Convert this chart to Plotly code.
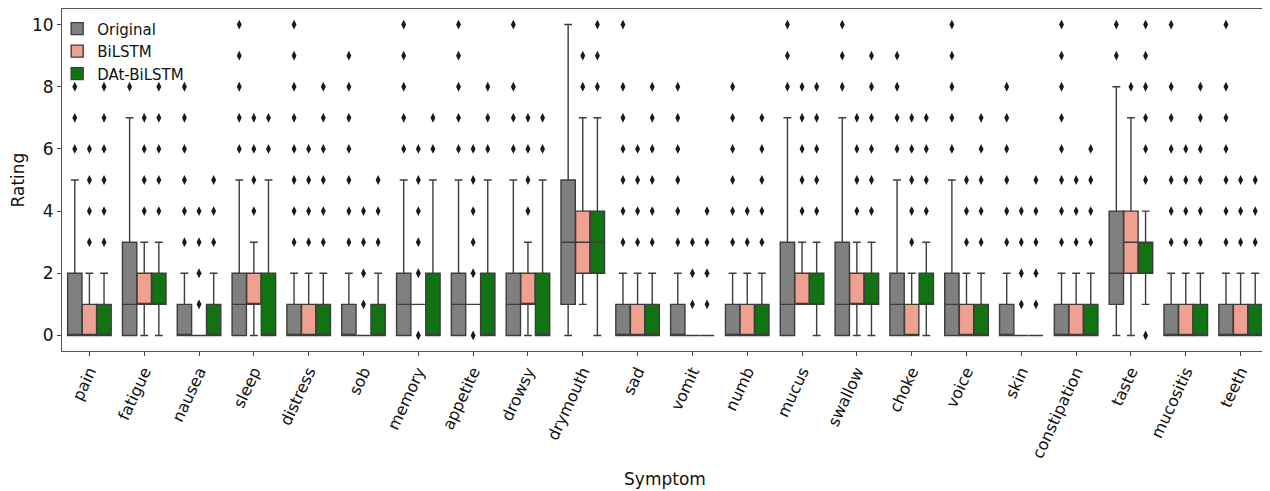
import plotly.graph_objects as go

categories = ["pain", "fatigue", "nausea", "sleep", "distress", "sob", "memory", "appetite",
              "drowsy", "drymouth", "sad", "vomit", "numb", "mucus", "swallow", "choke",
              "voice", "skin", "constipation", "taste", "mucositis", "teeth"]

models = ["Original", "BiLSTM", "DAt-BiLSTM"]

# ---- Original ----
orig_q1 = [0, 0, 0, 0, 0, 0, 0, 0, 0, 1, 0, 0, 0, 0, 0, 0, 0, 0, 0, 1, 0, 0]
orig_med = [0, 1, 0, 1, 0, 0, 1, 1, 1, 3, 0, 0, 0, 1, 1, 1, 1, 0, 0, 2, 0, 0]
orig_q3 = [2, 3, 1, 2, 1, 1, 2, 2, 2, 5, 1, 1, 1, 3, 3, 2, 2, 1, 1, 4, 1, 1]
orig_lo = [0, 0, 0, 0, 0, 0, 0, 0, 0, 0, 0, 0, 0, 0, 0, 0, 0, 0, 0, 0, 0, 0]
orig_hi = [5, 7, 2, 5, 2, 2, 5, 5, 5, 10, 2, 2, 2, 7, 7, 5, 5, 2, 2, 8, 2, 2]
orig_out = [[6, 7, 8], [8], [3, 4, 5, 6, 7, 8], [6, 7, 8, 9, 10], [3, 4, 5, 6, 7, 8, 9, 10],
            [3, 4, 5, 6, 7, 8, 9], [6, 7, 8, 9, 10], [6, 7, 8, 9, 10], [6, 7, 8, 10], [],
            [3, 4, 5, 6, 7, 8, 10], [3, 4, 5, 6, 7, 8], [3, 4, 5, 6, 7, 8], [8, 9, 10], [8, 9, 10],
            [6, 7, 8, 9], [6, 7, 8, 9, 10], [3, 4, 5, 6, 7, 8], [3, 4, 5, 6, 7, 8, 9, 10], [9, 10],
            [3, 4, 5, 6, 7, 8, 10], [3, 4, 5, 6, 7, 8, 10]]

# ---- BiLSTM ----
bi_q1 = [0, 1, 0, 1, 0, 0, 1, 1, 1, 2, 0, 0, 0, 1, 1, 0, 0, 0, 0, 2, 0, 0]
bi_med = [0, 1, 0, 1, 0, 0, 1, 1, 1, 3, 0, 0, 0, 1, 1, 0, 0, 0, 0, 3, 0, 0]
bi_q3 = [1, 2, 0, 2, 1, 0, 1, 1, 2, 4, 1, 0, 1, 2, 2, 1, 1, 0, 1, 4, 1, 1]
bi_lo = [0, 0, 0, 0, 0, 0, 1, 1, 0, 1, 0, 0, 0, 1, 0, 0, 0, 0, 0, 0, 0, 0]
bi_hi = [2, 3, 0, 3, 2, 0, 1, 1, 3, 7, 2, 0, 2, 3, 3, 2, 2, 0, 2, 7, 2, 2]
bi_out = [[3, 4, 5, 6], [4, 5, 6, 7], [1, 2, 3, 4], [4, 5, 6, 7], [3, 4, 5, 6],
          [1, 2, 3, 4], [0, 2, 3, 4, 5, 6], [0, 2, 3, 4, 5, 6], [4, 5, 6, 7], [8, 9],
          [3, 4, 5, 6], [1, 2, 3], [3, 4], [4, 5, 6, 7, 8], [4, 5, 6, 7],
          [3, 4, 5, 6, 7], [3, 4, 5], [1, 2, 3, 4], [3, 4, 5], [8],
          [3, 4, 5, 6], [3, 4, 5]]

# ---- DAt-BiLSTM ----
dat_q1 = [0, 1, 0, 0, 0, 0, 0, 0, 0, 2, 0, 0, 0, 1, 1, 1, 0, 0, 0, 2, 0, 0]
dat_med = [0, 1, 0, 0, 0, 0, 0, 0, 0, 3, 0, 0, 0, 1, 1, 1, 0, 0, 0, 3, 0, 0]
dat_q3 = [1, 2, 1, 2, 1, 1, 2, 2, 2, 4, 1, 0, 1, 2, 2, 2, 1, 0, 1, 3, 1, 1]
dat_lo = [0, 0, 0, 0, 0, 0, 0, 0, 0, 0, 0, 0, 0, 0, 0, 0, 0, 0, 0, 1, 0, 0]
dat_hi = [2, 3, 2, 5, 2, 2, 5, 5, 5, 7, 2, 0, 2, 3, 3, 3, 2, 0, 2, 4, 2, 2]
dat_out = [[3, 4, 5, 6, 7, 8], [4, 5, 6, 7, 8], [3, 4, 5], [6, 7], [3, 4, 5, 6, 7, 8],
           [3, 4, 5], [6, 7], [6, 7, 8], [6, 7], [8, 9, 10],
           [3, 4, 5, 6, 7, 8], [1, 2, 3, 4], [3, 4, 5, 6, 7], [4, 5, 6, 7, 8], [4, 5, 6, 7, 8, 9],
           [4, 5, 6, 7], [3, 4, 5, 6, 7], [1, 2, 3, 4, 5], [3, 4, 5, 6], [0, 5, 6, 7, 8, 9, 10],
           [3, 4, 5, 6, 7, 8], [3, 4, 5]]

colors = ["#808080", "#EFA090", "#127312"]
edge = "#3d3d3d"
FONT = "DejaVu Sans"

stats = [
    (orig_q1, orig_med, orig_q3, orig_lo, orig_hi, orig_out),
    (bi_q1, bi_med, bi_q3, bi_lo, bi_hi, bi_out),
    (dat_q1, dat_med, dat_q3, dat_lo, dat_hi, dat_out),
]

group_w = 0.8
n = len(models)
step = group_w / n

fig = go.Figure()
for h, (name, col, (q1, med, q3, lo, hi, outs)) in enumerate(zip(models, colors, stats)):
    off = (h - (n - 1) / 2) * step
    xs = [i + off for i in range(len(categories))]
    fig.add_trace(go.Box(
        name=name, x=xs, q1=q1, median=med, q3=q3, lowerfence=lo, upperfence=hi,
        width=step * 0.98, fillcolor=col, line=dict(color=edge, width=1.4),
        whiskerwidth=0.55, boxpoints=False, showlegend=True,
    ))
    ox, oy = [], []
    for i, vals in enumerate(outs):
        for v in vals:
            ox.append(i + off)
            oy.append(v)
    fig.add_trace(go.Scatter(
        x=ox, y=oy, mode="markers", showlegend=False, hoverinfo="skip",
        marker=dict(symbol="diamond-tall", size=7, color="#1a1a1a", line=dict(width=0)),
    ))

# the page body adds an 8px offset, so the figure is sized to fill the rest of the window
fig.update_layout(
    width=1262, height=483,
    margin=dict(l=54, r=2, t=1, b=140),
    paper_bgcolor="white", plot_bgcolor="white",
    boxmode="overlay",
    font=dict(family=FONT, size=16, color="#111"),
    legend=dict(x=-0.004, y=0.99, xanchor="left", yanchor="top",
                bgcolor="rgba(255,255,255,0)", font=dict(size=15), tracegroupgap=0),
)
fig.update_xaxes(
    range=[-0.5, len(categories) - 0.5],
    tickmode="array", tickvals=list(range(len(categories))), ticktext=categories,
    tickangle=-65, ticks="outside", ticklen=4, tickcolor="#444",
    showline=True, linecolor="#555", linewidth=1, mirror=True, showgrid=False, zeroline=False,
    title=dict(text="Symptom", font=dict(size=17), standoff=12),
    tickfont=dict(size=16),
)
fig.update_yaxes(
    range=[-0.5, 10.5], tickvals=[0, 2, 4, 6, 8, 10],
    ticks="outside", ticklen=4, tickcolor="#444",
    showline=True, linecolor="#555", linewidth=1, mirror=True, showgrid=False, zeroline=False,
    title=dict(text="Rating", font=dict(size=17), standoff=3),
    tickfont=dict(size=17),
)

fig.write_html("out.html")
